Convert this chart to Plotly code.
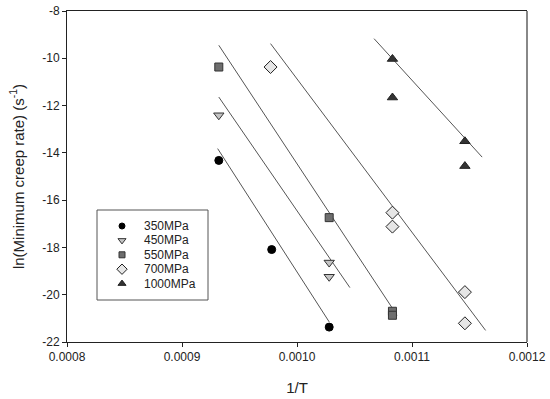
import plotly.graph_objects as go

# ---- data ----
series_names = ["350MPa", "450MPa", "550MPa", "700MPa", "1000MPa"]

x_350 = [0.000932, 0.000978, 0.001028]
y_350 = [-14.32, -18.09, -21.37]

x_450 = [0.000932, 0.001028, 0.001028]
y_450 = [-12.41, -18.64, -19.24]

x_550 = [0.000932, 0.001028, 0.001083, 0.001083]
y_550 = [-10.37, -16.74, -20.70, -20.87]

x_700 = [0.000977, 0.001083, 0.001083, 0.001146, 0.001146]
y_700 = [-10.37, -16.53, -17.12, -19.89, -21.21]

x_1000 = [0.001083, 0.001083, 0.001146, 0.001146]
y_1000 = [-10.03, -11.66, -13.51, -14.56]

# fitted lines (end points)
fit_x_350 = [0.000931, 0.001028]
fit_y_350 = [-13.82, -21.15]
fit_x_450 = [0.000932, 0.001046]
fit_y_450 = [-11.64, -19.70]
fit_x_550 = [0.000932, 0.001087]
fit_y_550 = [-9.45, -20.87]
fit_x_700 = [0.000977, 0.001164]
fit_y_700 = [-9.38, -21.51]
fit_x_1000 = [0.001067, 0.001161]
fit_y_1000 = [-9.17, -14.18]

x_ticks = [0.0008, 0.0009, 0.0010, 0.0011, 0.0012]
x_tick_labels = ["0.0008", "0.0009", "0.0010", "0.0011", "0.0012"]
y_ticks = [-22, -20, -18, -16, -14, -12, -10, -8]
y_tick_labels = ["-22", "-20", "-18", "-16", "-14", "-12", "-10", "-8"]

FONT = "Arial, Liberation Sans, sans-serif"
TXT = "#222222"

# layout geometry (pixels)
W, H = 550, 399
ML, MR, MT, MB = 67, 23, 11, 57
PW, PH = W - ML - MR, H - MT - MB

def px_x(px):
    return (px - ML) / PW

def px_y(py):
    return (H - MB - py) / PH

fig = go.Figure()

fits = [(fit_x_350, fit_y_350), (fit_x_450, fit_y_450), (fit_x_550, fit_y_550),
        (fit_x_700, fit_y_700), (fit_x_1000, fit_y_1000)]
for fx, fy in fits:
    fig.add_trace(go.Scatter(x=fx, y=fy, mode="lines",
                             line=dict(color="#555555", width=1),
                             showlegend=False, hoverinfo="skip"))

styles = [
    (x_350, y_350, "circle", 8, "#000000", "#000000"),
    (x_450, y_450, "triangle-down", 9, "#c4c4c4", "#333333"),
    (x_550, y_550, "square", 8, "#6e6e6e", "#333333"),
    (x_700, y_700, "diamond", 10, "#e6e6e6", "#222222"),
    (x_1000, y_1000, "triangle-up", 9, "#333333", "#222222"),
]
for name, (xs, ys, sym, sz, fc, lc) in zip(series_names, styles):
    fig.add_trace(go.Scatter(x=xs, y=ys, mode="markers", name=name,
                             marker=dict(symbol=sym, size=sz, color=fc,
                                         line=dict(color=lc, width=1)),
                             showlegend=False))

# ---- custom legend (box + markers on an overlay axis + text) ----
leg_x0, leg_x1 = px_x(97), px_x(208)
leg_y0, leg_y1 = px_y(300), px_y(210)
leg_mx = px_x(122)
leg_tx = px_x(142)
row0 = px_y(226)
row_step = 14.4 / PH
annotations = []
for i, (name, (xs, ys, sym, sz, fc, lc)) in enumerate(zip(series_names, styles)):
    ry = row0 - i * row_step
    fig.add_trace(go.Scatter(x=[leg_mx], y=[ry], mode="markers", xaxis="x2", yaxis="y2",
                             marker=dict(symbol=sym, size=sz - 2, color=fc,
                                         line=dict(color=lc, width=1)),
                             showlegend=False, hoverinfo="skip"))
    annotations.append(dict(x=leg_tx, y=ry, xref="paper", yref="paper", text=name,
                            showarrow=False, xanchor="left", yanchor="middle",
                            font=dict(family=FONT, size=12, color=TXT)))

fig.update_layout(
    width=W, height=H,
    margin=dict(l=ML, r=MR, t=MT, b=MB),
    paper_bgcolor="white", plot_bgcolor="white",
    font=dict(family=FONT, size=12, color=TXT),
    showlegend=False,
    annotations=annotations,
    shapes=[
        dict(type="line", xref="paper", yref="paper", x0=1, x1=1, y0=0, y1=1,
             line=dict(color="#888888", width=2)),
        dict(type="rect", xref="paper", yref="paper", x0=leg_x0, x1=leg_x1,
             y0=leg_y0, y1=leg_y1, line=dict(color="#555555", width=1),
             fillcolor="white", layer="below"),
    ],
    xaxis=dict(
        range=[0.0008, 0.0012], tickvals=x_ticks, ticktext=x_tick_labels,
        showgrid=False, zeroline=False, automargin=False,
        showline=True, linecolor="#222222", linewidth=1, mirror=True,
        ticks="outside", ticklen=4, tickcolor="#222222",
        tickfont=dict(family=FONT, size=12, color=TXT),
        title=dict(text="1/T", font=dict(family=FONT, size=15, color=TXT), standoff=19),
    ),
    yaxis=dict(
        range=[-22, -8], tickvals=y_ticks, ticktext=y_tick_labels,
        showgrid=False, zeroline=False, automargin=False,
        showline=True, linecolor="#222222", linewidth=1, mirror=False,
        ticks="outside", ticklen=4, tickcolor="#222222",
        tickfont=dict(family=FONT, size=12, color=TXT),
        title=dict(text="ln(Minimum creep rate) (s<sup>-1</sup>)",
                   font=dict(family=FONT, size=15, color=TXT), standoff=14),
    ),
    xaxis2=dict(overlaying="x", anchor="y2", range=[0, 1], visible=False, fixedrange=True),
    yaxis2=dict(overlaying="y", anchor="x2", range=[0, 1], visible=False, fixedrange=True),
)

fig.write_html("out.html", config={"displayModeBar": False, "staticPlot": True},
               post_script="document.body.style.margin='0';document.body.style.overflow='hidden';")
